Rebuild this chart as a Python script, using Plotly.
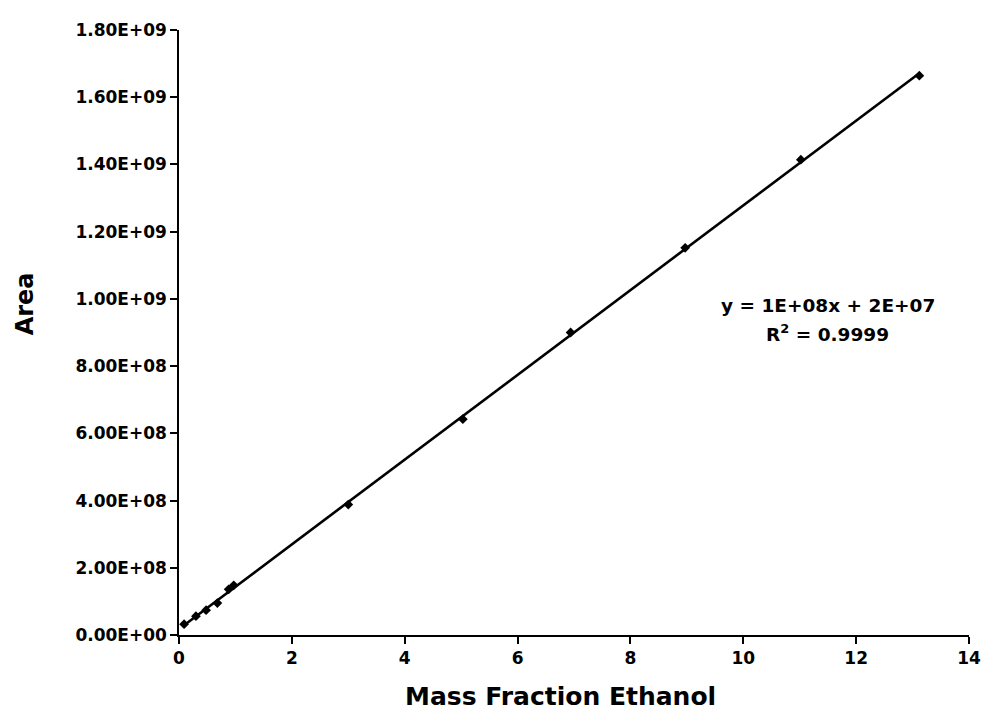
import numpy as np
import plotly.graph_objects as go

# Data
mass_fraction = [0.09, 0.30, 0.48, 0.68, 0.88, 0.97, 3.00, 5.03, 6.94, 8.97, 11.02, 13.12]
area = [0.032e9, 0.056e9, 0.074e9, 0.095e9, 0.136e9, 0.148e9,
        0.388e9, 0.642e9, 0.900e9, 1.152e9, 1.414e9, 1.664e9]

y_tick_vals = [0, 2e8, 4e8, 6e8, 8e8, 1e9, 1.2e9, 1.4e9, 1.6e9, 1.8e9]
y_tick_text = ["0.00E+00", "2.00E+08", "4.00E+08", "6.00E+08", "8.00E+08",
               "1.00E+09", "1.20E+09", "1.40E+09", "1.60E+09", "1.80E+09"]
x_tick_vals = [0, 2, 4, 6, 8, 10, 12, 14]

equation_text = "y = 1E+08x + 2E+07"
r2_text = "R<sup>2</sup> = 0.9999"
x_title = "Mass Fraction Ethanol"
y_title = "Area"

# Linear trendline from the data
slope, intercept = np.polyfit(mass_fraction, area, 1)
fit_x = [min(mass_fraction), max(mass_fraction)]
fit_y = [slope * v + intercept for v in fit_x]

FONT = "DejaVu Sans"

# plot area in page pixels (page body has an 8px margin)
PL, PR, PT, PB = 179, 972, 25, 635
PW, PH = PR - PL, PB - PT

fig = go.Figure()
fig.add_trace(go.Scatter(x=fit_x, y=fit_y, mode="lines",
                         line=dict(color="black", width=2.6),
                         hoverinfo="skip", showlegend=False))
fig.add_trace(go.Scatter(x=mass_fraction, y=area, mode="markers",
                         marker=dict(symbol="diamond", size=7.5, color="black"),
                         showlegend=False))

fig.update_layout(
    width=985, height=702,
    margin=dict(l=PL - 8, r=985 + 8 - PR, t=PT - 8, b=702 + 8 - PB),
    paper_bgcolor="white", plot_bgcolor="white",
    font=dict(family=FONT, color="black"),
    xaxis=dict(range=[0, 14], tickvals=x_tick_vals, showgrid=False, zeroline=False,
               showline=True, linecolor="black", linewidth=1.5,
               ticks="outside", ticklen=7, tickcolor="black", tickwidth=1.5,
               tickfont=dict(family=FONT, size=17, weight="bold", color="black")),
    yaxis=dict(range=[0, 1.8e9], tickvals=y_tick_vals, ticktext=y_tick_text,
               showgrid=False, zeroline=False,
               showline=True, linecolor="black", linewidth=1.5,
               ticks="outside", ticklen=7, tickcolor="black", tickwidth=1.5,
               tickfont=dict(family=FONT, size=17, weight="bold", color="black")),
    annotations=[
        dict(x=11.5, y=0.98e9, xref="x", yref="y", text=equation_text, showarrow=False,
             xanchor="center", yanchor="middle",
             font=dict(family=FONT, size=18.5, weight="bold", color="black")),
        dict(x=11.5, y=0.898e9, xref="x", yref="y", text=r2_text, showarrow=False,
             xanchor="center", yanchor="middle",
             font=dict(family=FONT, size=18.5, weight="bold", color="black")),
        dict(x=(562 - PL) / PW, y=-(697 - PB) / PH,
             xref="paper", yref="paper", text=x_title, showarrow=False,
             xanchor="center", yanchor="middle",
             font=dict(family=FONT, size=25, weight="bold", color="black")),
        dict(x=-(PL - 24) / PW, y=(PB - 301) / PH,
             xref="paper", yref="paper", text=y_title, showarrow=False, textangle=-90,
             xanchor="center", yanchor="middle",
             font=dict(family=FONT, size=24, weight="bold", color="black")),
    ],
)

fig.write_html("out.html")
